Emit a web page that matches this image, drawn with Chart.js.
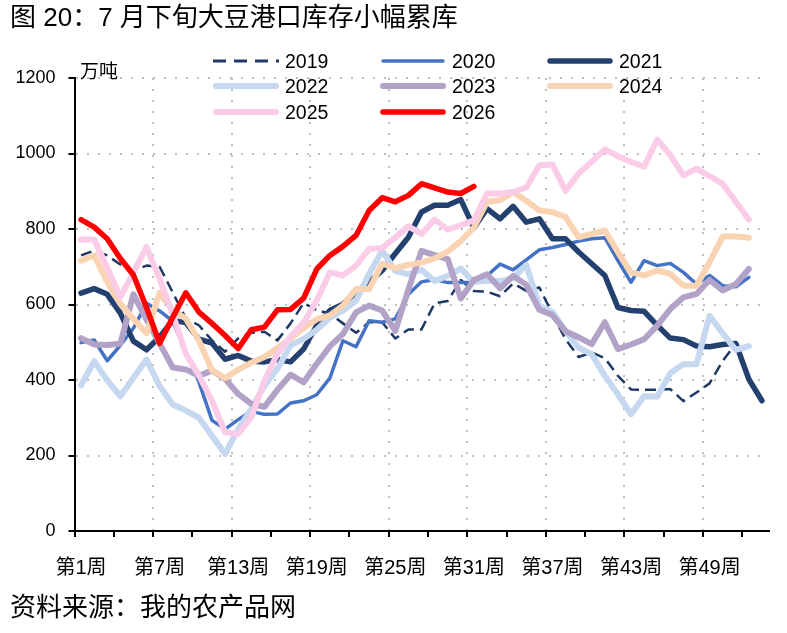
<!DOCTYPE html>
<html>
<head>
<meta charset="utf-8">
<script src="https://cdn.jsdelivr.net/npm/chart.js@4.4.1/dist/chart.umd.min.js"></script>
<style>
    html, body { margin: 0; padding: 0; background: #fff; }
    #wrap { position: relative; width: 787px; height: 633px; overflow: hidden; font-family: 'Liberation Sans', Arial, 'Noto Sans CJK SC', sans-serif; color: #000; }
    #chart { position: absolute; left: 0; top: 0; }
    #title { position: absolute; left: 10px; top: 3px; font-size: 26px; line-height: 28px; white-space: nowrap; }
    #source { position: absolute; left: 10px; top: 593px; font-size: 26px; line-height: 28px; white-space: nowrap; }
    #unit { position: absolute; left: 80px; top: 61px; font-size: 19px; line-height: 22px; }
    .leg { position: absolute; height: 24px; font-size: 19.5px; line-height: 24px; white-space: nowrap; }
    .leg svg { position: absolute; left: 0; top: 7px; }
    .leg span { position: absolute; left: 72px; top: 0; }
</style>
</head>
<body>
<div id="wrap">
    <canvas id="chart" width="787" height="633"></canvas>
    <div id="title">图 20：7 月下旬大豆港口库存小幅累库</div>
    <div id="unit">万吨</div>
    <div id="legend"></div>
    <div id="source">资料来源：我的农产品网</div>
</div>
<script>
const weeks = Array.from({ length: 53 }, (_, i) => `第${i + 1}周`);
const shownWeeks = ['第1周', '第7周', '第13周', '第19周', '第25周', '第31周', '第37周', '第43周', '第49周'];
const yTicks = [0, 200, 400, 600, 800, 1000, 1200];
const years = ['2019', '2020', '2021', '2022', '2023', '2024', '2025', '2026'];

const s2019 = [730, 743, 730, 706, 690, 703, 700, 632, 563, 545, 505, 475, 510, 525, 528, 505, 550, 604, 585, 576,
    550, 525, 553, 553, 510, 534, 534, 603, 609, 665, 636, 634, 622, 656, 636, 645, 575, 508, 461, 473,
    458, 411, 375, 374, 374, 376, 344, 367, 391, 451, 496];
const s2020 = [499, 506, 451, 492, 537, 603, 583, 556, 475, 395, 293, 270, 295, 317, 309, 310, 339, 345, 361, 405,
    504, 488, 557, 553, 562, 627, 660, 666, 658, 658, 658, 676, 707, 692, 718, 745, 751, 759, 768, 774,
    777, 716, 659, 716, 703, 709, 685, 654, 677, 650, 647, 672];
const s2021 = [630, 642, 627, 577, 503, 480, 514, 558, 552, 508, 498, 455, 465, 450, 448, 454, 448, 482, 545, 584,
    601, 632, 659, 690, 735, 778, 845, 863, 863, 878, 803, 854, 827, 860, 818, 827, 774, 774, 739, 708,
    677, 592, 584, 582, 545, 511, 507, 490, 488, 494, 497, 402, 345];
const s2022 = [386, 450, 399, 357, 406, 454, 384, 335, 319, 300, 252, 204, 270, 323, 385, 430, 492, 509, 533, 565,
    584, 610, 681, 743, 689, 680, 692, 662, 676, 695, 660, 662, 662, 670, 705, 596, 580, 530, 486, 468,
    411, 362, 309, 357, 356, 418, 442, 442, 570, 524, 480, 490];
const s2023 = [511, 494, 493, 496, 627, 560, 497, 433, 428, 411, 425, 403, 363, 337, 329, 374, 414, 394, 443, 489,
    522, 579, 597, 584, 530, 640, 742, 731, 720, 616, 665, 680, 643, 676, 652, 586, 572, 529, 513, 495,
    553, 482, 494, 508, 544, 588, 619, 628, 665, 637, 654, 694];
const s2024 = [716, 730, 660, 602, 562, 524, 631, 585, 563, 504, 426, 405, 427, 446, 461, 485, 510, 538, 561, 571,
    597, 641, 641, 708, 696, 705, 711, 722, 740, 768, 804, 872, 876, 898, 875, 849, 845, 832, 778, 787,
    796, 739, 685, 677, 690, 681, 650, 650, 712, 780, 780, 777];
const s2025 = [772, 772, 697, 619, 685, 752, 668, 575, 470, 412, 345, 262, 257, 301, 398, 470, 515, 552, 611, 685,
    677, 703, 747, 750, 778, 807, 787, 825, 798, 810, 823, 894, 894, 898, 910, 969, 971, 901, 947, 978,
    1011, 993, 978, 965, 1037, 996, 942, 960, 940, 920, 872, 825];
const s2026 = [825, 805, 774, 722, 678, 592, 497, 566, 631, 580, 550, 518, 483, 533, 540, 586, 587, 617, 694, 730,
    754, 783, 849, 883, 872, 889, 920, 909, 898, 894, 913];

const seriesData = [s2019, s2020, s2021, s2022, s2023, s2024, s2025, s2026];

// looks of each year line
const lineColors = ['#1F3864', '#4472C4', '#24406F', '#C5D8F0', '#B3A2C7', '#FAD3B2', '#FBCCE8', '#FF0000'];
const lineWidths = [2.5, 3.5, 5.5, 6, 6, 6, 6, 5.5];
const dashOf = i => (i === 0 ? [11, 6] : []);

const datasets = years.map((y, i) => ({
    label: y,
    data: seriesData[i],
    borderColor: lineColors[i],
    backgroundColor: lineColors[i],
    borderWidth: lineWidths[i],
    borderDash: dashOf(i),
    borderCapStyle: i === 0 ? 'butt' : 'round',
    borderJoinStyle: 'round',
    pointRadius: 0,
    tension: 0,
    fill: false,
    order: years.length - i
}));

// legend in 3 columns drawn as html
const legendBox = document.getElementById('legend');
const legCols = [213, 380, 547];
const legRows = [49, 74, 100];
years.forEach((y, i) => {
    const d = document.createElement('div');
    d.className = 'leg';
    d.style.left = legCols[i % 3] + 'px';
    d.style.top = legRows[Math.floor(i / 3)] + 'px';
    const dash = i === 0 ? 'stroke-dasharray="13 8"' : '';
    const cap = i === 0 ? 'butt' : 'round';
    d.innerHTML = `<svg width="68" height="10"><line x1="${i === 0 ? 0 : 3}" y1="5" x2="${i === 0 ? 66 : 63}" y2="5" stroke="${lineColors[i]}" stroke-width="${Math.max(lineWidths[i], 3)}" stroke-linecap="${cap}" ${dash}/></svg><span>${y}</span>`;
    legendBox.appendChild(d);
});

const fontFamily = "'Liberation Sans', Arial, 'Noto Sans CJK SC', sans-serif";
Chart.defaults.font.family = fontFamily;
Chart.defaults.color = '#000';

const ctx = document.getElementById('chart').getContext('2d');
const chart = new Chart(ctx, {
    type: 'line',
    data: { labels: weeks, datasets },
    options: {
        responsive: false,
        animation: false,
        layout: { padding: { top: 78, right: 18.5, bottom: 50, left: 0 } },
        plugins: { legend: { display: false }, tooltip: { enabled: false } },
        scales: {
            x: {
                offset: true,
                afterFit: s => { s.height = 52; },
                ticks: {
                    autoSkip: false,
                    maxRotation: 0,
                    padding: 19,
                    font: { size: 20 },
                    color: '#000',
                    callback: (v, i) => (shownWeeks.includes(weeks[i]) ? weeks[i] : '')
                },
                grid: {
                    offset: true,
                    lineWidth: 2,
                    color: c => (c.index > 0 && c.index % 6 === 0 ? '#BFBFBF' : 'rgba(0,0,0,0)'),
                    tickColor: c => (c.index % 3 === 0 ? '#000' : 'rgba(0,0,0,0)'),
                    tickLength: 6,
                    tickWidth: 2,
                    tickBorderDash: []
                },
                border: { color: '#000', width: 2, dash: [2, 9] }
            },
            y: {
                min: 0,
                max: 1200,
                afterFit: s => { s.width = 74.5; },
                afterBuildTicks: s => { s.ticks = yTicks.map(v => ({ value: v })); },
                ticks: { padding: 13, font: { size: 18 }, color: '#000', callback: v => String(v) },
                grid: {
                    lineWidth: 2,
                    color: c => (c.tick && c.tick.value > 0 ? '#BFBFBF' : 'rgba(0,0,0,0)'),
                    tickColor: '#000',
                    tickLength: 6,
                    tickWidth: 2,
                    tickBorderDash: []
                },
                border: { color: '#000', width: 2, dash: [2, 9] }
            }
        }
    }
});
</script>
</body>
</html>
